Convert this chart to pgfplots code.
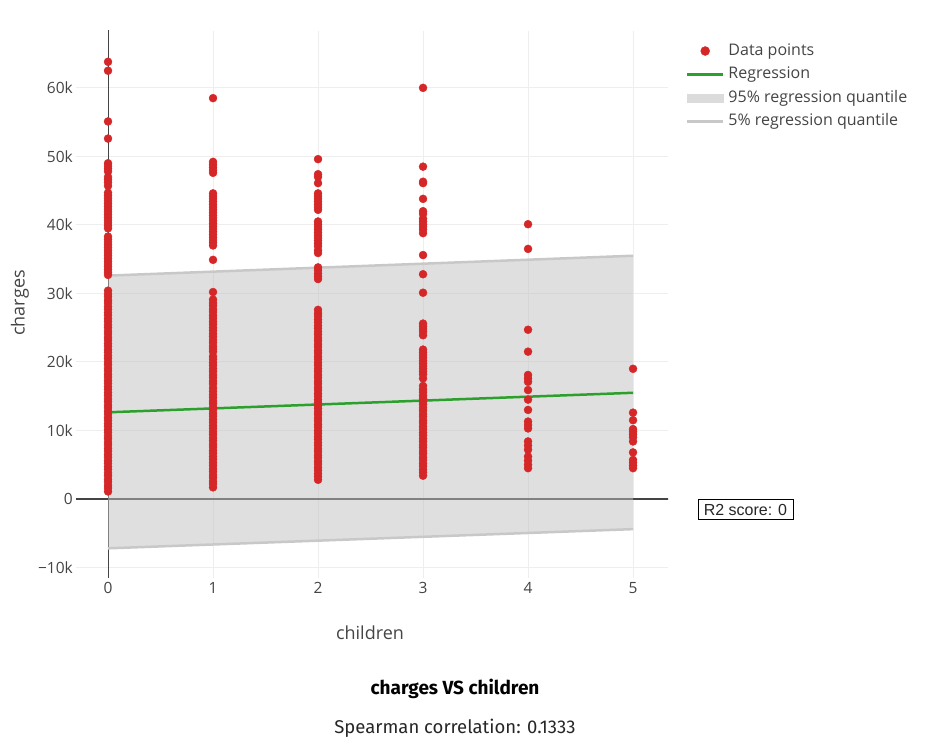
\documentclass[border=0pt]{standalone}
\usepackage{pgfplots}
\pgfplotsset{compat=1.18}
\usepackage{fontspec}
\setmainfont{Open Sans}
\newfontfamily\titlefont{Fira Sans}
\newfontfamily\boxfont{Liberation Sans}
\definecolor{tx}{HTML}{444444}
\definecolor{dred}{HTML}{D62728}
\definecolor{dgreen}{HTML}{2CA02C}
\definecolor{qgray}{HTML}{C8C8C8}
\definecolor{gridc}{HTML}{EEEEEE}
\definecolor{zl}{HTML}{444444}
\begin{document}
\begin{tikzpicture}[x=1pt,y=1pt]
\useasboundingbox (0,0) rectangle (932,745);
\begin{axis}[
 at={(76pt,167pt)}, anchor=south west, scale only axis, width=592pt, height=547pt,
 xmin=-0.305, xmax=5.333, ymin=-11.53, ymax=68.3,
 xtick={0,1,2,3,4,5}, ytick={-10,0,10,20,30,40,50,60},
 yticklabels={−10k,0,10k,20k,30k,40k,50k,60k},
 grid=major, major grid style={gridc, line width=1pt},
 axis line style={draw=none}, major tick length=0pt,
 ticklabel style={font=\fontsize{15.5}{18}\selectfont, text=tx},
 /pgf/number format/assume math mode=true,
 yticklabel style={anchor=east, inner sep=0pt, xshift=-3pt},
 xticklabel style={anchor=north, inner sep=0pt, yshift=-4pt},
 legend style={at={(1.030,0.9784)}, anchor=north west, draw=none, fill=none,
   font=\fontsize{16}{19}\selectfont, text=tx, row sep=7.5pt, inner sep=0pt,
   nodes={inner sep=0pt, anchor=west, text height=12pt, text depth=4pt},
   /tikz/every odd column/.append style={column sep=4pt}},
 legend cell align=left,
 legend image code/.code={\draw[#1] (0pt,0pt) -- (36pt,0pt);},
]
% zero lines
\addplot[zl, line width=2pt, forget plot] coordinates {(-0.4,0) (5.5,0)};
\addplot[zl, line width=1pt, forget plot] coordinates {(0,-12) (0,70)};
% quantile band
\addplot[draw=none, fill=black!25, fill opacity=0.5, forget plot] coordinates {(0,-7.2) (5,-4.4) (5,35.5) (0,32.6)} -- cycle;
\addplot[qgray, line width=2.5pt, forget plot] coordinates {(0,32.6) (5,35.5)};
\addplot[qgray, line width=2.5pt, forget plot] coordinates {(0,-7.2) (5,-4.4)};
% regression
\addplot[dgreen, line width=2.5pt, forget plot] coordinates {(0,12.65) (5,15.5)};
% data points
\pgfplotsset{pts/.style={only marks, mark=*, mark size=4pt, color=dred, mark options={draw=none, fill=dred}, forget plot}}
\addplot[pts] coordinates {
(0,63.8) (0,62.5) (0,55.1) (0,52.6) (0,49.0) (0,48.6) (0,48.2) (0,47.8) (0,47.0) (0,46.6) (0,46.2) (0,45.7)
(0,44.7) (0,44.3) (0,43.9) (0,43.5) (0,43.1) (0,42.7) (0,42.3) (0,41.9) (0,41.5) (0,41.1) (0,40.7) (0,40.3)
(0,39.9) (0,39.5) (0,38.3) (0,37.9) (0,37.5) (0,37.1) (0,36.7) (0,36.3) (0,35.9) (0,35.5) (0,35.1) (0,34.7)
(0,34.3) (0,33.9) (0,33.5) (0,33.1) (0,32.7)
(0,30.4) (0,29.9) (0,29.5) (0,29.0) (0,28.6) (0,28.1) (0,27.7) (0,27.2) (0,26.8) (0,26.3) (0,25.9) (0,25.4)
(0,25.0) (0,24.5) (0,24.1) (0,23.6) (0,23.2) (0,22.7) (0,22.3) (0,21.8) (0,21.4) (0,20.9) (0,20.5) (0,20.0)
(0,19.6) (0,19.1) (0,18.7) (0,18.2) (0,17.8) (0,17.3) (0,16.9) (0,16.4) (0,16.0) (0,15.5) (0,15.1) (0,14.6)
(0,14.2) (0,13.7) (0,13.3) (0,12.8) (0,12.4) (0,11.9) (0,11.5) (0,11.0) (0,10.6) (0,10.1) (0,9.7) (0,9.2)
(0,8.8) (0,8.3) (0,7.9) (0,7.4) (0,7.0) (0,6.5) (0,6.1) (0,5.6) (0,5.2) (0,4.7) (0,4.3) (0,3.8)
(0,3.4) (0,2.9) (0,2.5) (0,2.0) (0,1.6) (0,1.1)
};
\addplot[pts] coordinates {
(1,58.5) (1,49.2) (1,48.8) (1,48.4) (1,48.0) (1,47.6)
(1,44.6) (1,44.2) (1,43.8) (1,43.4) (1,43.0) (1,42.6) (1,42.2) (1,41.8) (1,41.4) (1,41.0) (1,40.6) (1,40.2)
(1,39.8) (1,39.4) (1,39.0) (1,38.6) (1,38.2) (1,37.8) (1,37.4) (1,37.0) (1,34.9) (1,30.2)
(1,29.1) (1,28.6) (1,28.2) (1,27.7) (1,27.3) (1,26.8) (1,26.4) (1,25.9) (1,25.5) (1,25.0) (1,24.6) (1,24.1)
(1,23.7) (1,23.2) (1,22.8) (1,22.3) (1,21.9) (1,21.5) (1,20.8) (1,20.4) (1,19.9) (1,19.5) (1,19.0) (1,18.6)
(1,18.1) (1,17.7) (1,17.2) (1,16.8) (1,16.2) (1,15.7) (1,15.2) (1,14.8) (1,14.3) (1,13.9) (1,13.4) (1,13.0)
(1,12.5) (1,12.1) (1,11.6) (1,11.2) (1,10.7) (1,10.3) (1,9.8) (1,9.4) (1,8.9) (1,8.5) (1,8.0) (1,7.6)
(1,7.1) (1,6.7) (1,6.2) (1,5.8) (1,5.3) (1,4.9) (1,4.4) (1,4.0) (1,3.5) (1,3.1) (1,2.6) (1,2.2) (1,1.7)
};
\addplot[pts] coordinates {
(2,49.6) (2,47.4) (2,47.0) (2,46.1) (2,44.6) (2,44.2) (2,43.8) (2,43.4) (2,43.0) (2,42.6) (2,42.2)
(2,40.5) (2,40.1) (2,39.7) (2,39.3) (2,38.9) (2,38.5) (2,38.1) (2,37.7) (2,37.3) (2,36.9) (2,36.3) (2,35.9)
(2,33.8) (2,33.4) (2,32.9) (2,32.5) (2,32.1)
(2,27.6) (2,27.1) (2,26.7) (2,26.2) (2,25.8) (2,25.3) (2,24.9) (2,24.4) (2,24.0) (2,23.5) (2,23.1) (2,22.6)
(2,22.2) (2,21.7) (2,21.3) (2,20.8) (2,20.4) (2,19.9) (2,19.5) (2,19.0) (2,18.6) (2,18.1) (2,17.7) (2,17.2)
(2,16.8) (2,16.3) (2,15.9) (2,15.4) (2,15.0) (2,14.5) (2,14.1) (2,13.6) (2,13.2) (2,12.7) (2,12.3) (2,11.8)
(2,11.4) (2,10.9) (2,10.5) (2,10.0) (2,9.6) (2,9.1) (2,8.7) (2,8.2) (2,7.8) (2,7.3) (2,6.9) (2,6.4)
(2,6.0) (2,5.5) (2,5.1) (2,4.6) (2,4.2) (2,3.7) (2,3.3) (2,2.8)
};
\addplot[pts] coordinates {
(3,60.0) (3,48.5) (3,46.3) (3,46.1) (3,43.8) (3,42.0) (3,41.6) (3,40.9) (3,40.5) (3,40.1) (3,39.7) (3,39.3)
(3,38.8) (3,35.6) (3,32.8) (3,30.1) (3,25.6) (3,25.2) (3,24.8) (3,24.4) (3,23.9)
(3,21.8) (3,21.4) (3,21.0) (3,20.6) (3,20.2) (3,19.8) (3,19.4) (3,19.0) (3,18.6) (3,18.2) (3,17.6)
(3,16.5) (3,16.0) (3,15.6) (3,15.1) (3,14.7) (3,14.2) (3,13.8) (3,13.3) (3,12.9) (3,12.4) (3,12.0) (3,11.5)
(3,11.1) (3,10.6) (3,10.2) (3,9.7) (3,9.3) (3,8.8) (3,8.4) (3,7.9) (3,7.5) (3,7.0) (3,6.6) (3,6.1)
(3,5.7) (3,5.2) (3,4.8) (3,4.3) (3,3.9) (3,3.4)
};
\addplot[pts] coordinates {
(4,40.1) (4,36.5) (4,24.7) (4,21.5) (4,18.1) (4,17.6) (4,17.1) (4,15.9) (4,14.5) (4,13.0) (4,11.3) (4,10.8)
(4,10.3) (4,8.4) (4,7.8) (4,7.2) (4,6.2) (4,5.6) (4,5.0) (4,4.5)
};
\addplot[pts] coordinates {
(5,19.0) (5,12.6) (5,11.5) (5,10.2) (5,9.8) (5,9.4) (5,9.0) (5,8.4) (5,6.8) (5,5.7) (5,5.3) (5,4.9) (5,4.5)
};
% legend
\addlegendimage{legend image code/.code={\fill[dred] (18pt,0pt) circle (4.5pt);}}
\addlegendentry{Data points}
\addlegendimage{dgreen, line width=2.5pt}
\addlegendentry{Regression}
\addlegendimage{legend image code/.code={\fill[black!14] (0pt,-4pt) rectangle (36pt,4pt);}}
\addlegendentry{95\% regression quantile}
\addlegendimage{qgray, line width=2.5pt}
\addlegendentry{5\% regression quantile}
\end{axis}
\node[font=\fontsize{18}{21}\selectfont, text=tx] at (370,112) {children};
\node[rotate=90, font=\fontsize{18}{21}\selectfont, text=tx] at (20,442) {charges};
\node[font=\titlefont\bfseries\fontsize{19}{22}\selectfont] at (455,56) {charges VS children};
\node[font=\titlefont\fontsize{18.5}{21}\selectfont, text=black!85] at (455,17) {Spearman correlation: 0.1333};
\node[draw=black, line width=1pt, fill=white, minimum width=95pt, minimum height=20pt, inner sep=0pt, font=\boxfont\fontsize{16}{18}\selectfont, text=black!85] at (745.5,235) {R2 score: 0};
\end{tikzpicture}
\end{document}
